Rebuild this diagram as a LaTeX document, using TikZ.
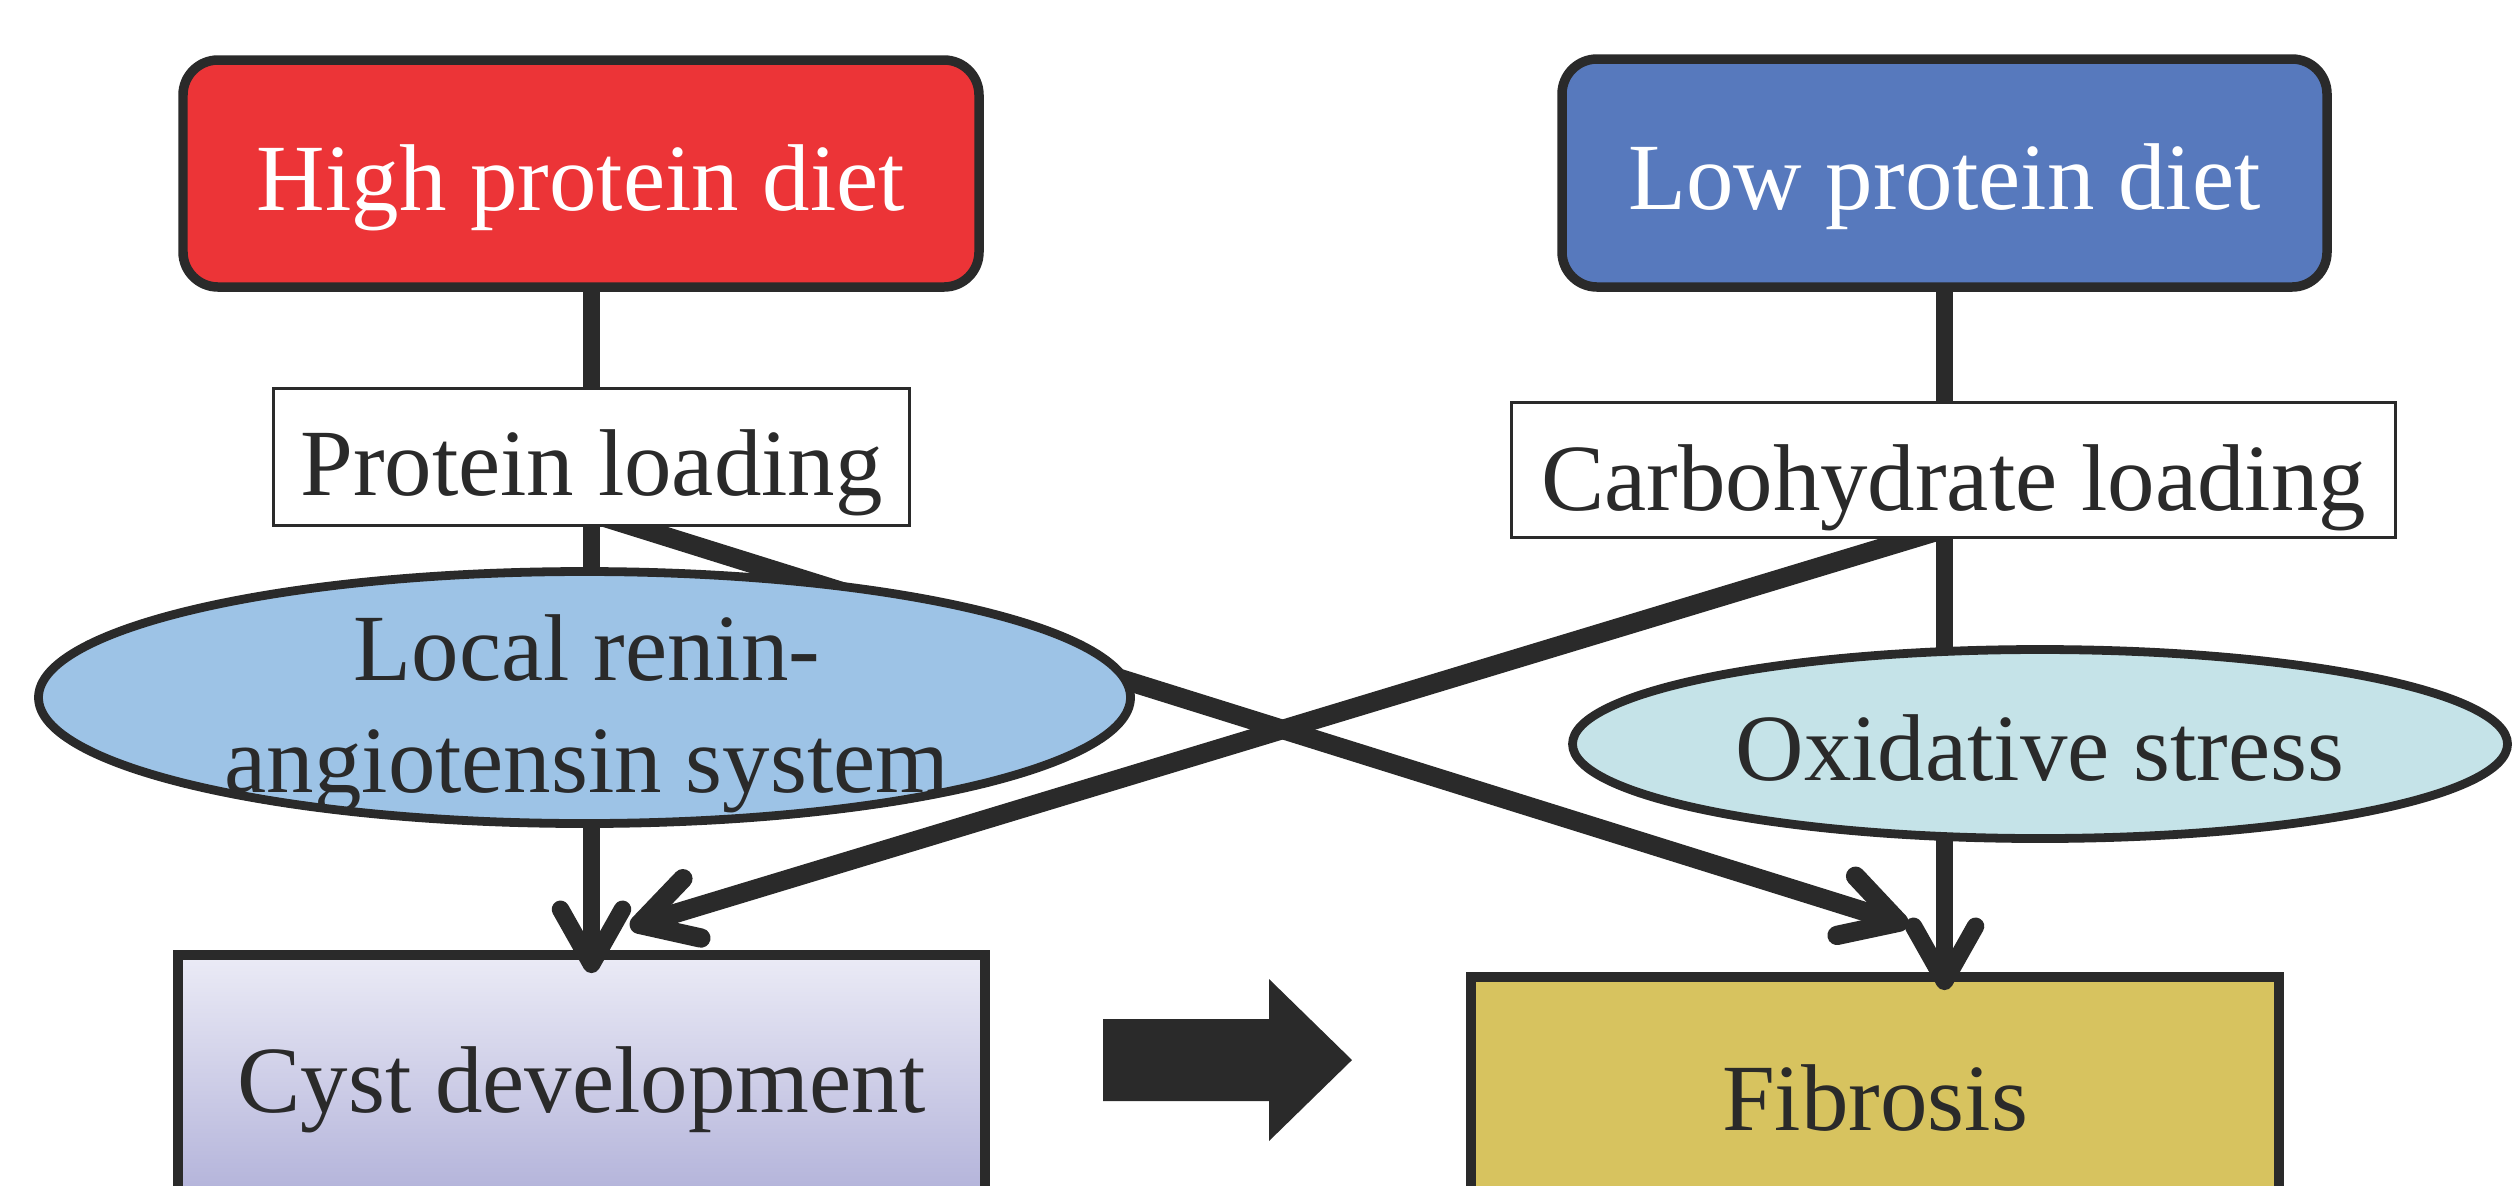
\documentclass[tikz,border=0pt]{standalone}
\usepackage{fontspec}
\setmainfont{Liberation Serif}
\usetikzlibrary{arrows.meta,calc,shapes.geometric}
\definecolor{dietred}{HTML}{EC3437}
\definecolor{dietblue}{HTML}{5779BD}
\definecolor{rasblue}{HTML}{9DC3E6}
\definecolor{oxcyan}{HTML}{C5E3E8}
\definecolor{fibgold}{HTML}{D7C35F}
\definecolor{cysttop}{HTML}{EBEBF6}
\definecolor{cystbot}{HTML}{B3B3DA}
\definecolor{flowink}{HTML}{2A2A2A}
\pgfdeclarelayer{front}
\pgfsetlayers{main,front}

\begin{document}
\begin{tikzpicture}[
  x=1cm,
  y=1cm,
  every node/.style={font=\fontsize{27}{32}\selectfont, text=flowink, inner sep=0pt},
  diet/.style={draw=flowink, line width=2.7pt, rounded corners=0.35cm, text=white,
    text height=0.73cm, text depth=0pt},
  load/.style={draw=flowink, line width=0.85pt, fill=white, text depth=0pt},
  oval/.style={ellipse, draw=flowink, line width=2.5pt},
  outcome/.style={draw=flowink, line width=2.8pt, text depth=0pt},
  bar/.style={flowink, line width=5pt},
  link/.style={bar, -{Straight Barb[round, length=0.55cm, width=0.62cm]}},
  cross/.style={link, line width=5.5pt}
]
  \useasboundingbox (0,0) rectangle (25.12,-11.85);

  % ---- diets ----
  \node[diet, fill=dietred, minimum width=7.96cm, minimum height=2.27cm]
    (high) at (5.81,-1.735) {High protein diet};
  \node[diet, fill=dietblue, minimum width=7.65cm, minimum height=2.28cm]
    (low) at (19.445,-1.73) {Low protein diet};

  % ---- outcomes (boxes run past the lower edge) ----
  \node[outcome, top color=cysttop, bottom color=cystbot,
        minimum width=8.07cm, minimum height=2.4cm, text height=0.74cm]
    (cyst) at (5.815,-10.75) {Cyst development};
  \node[outcome, fill=fibgold, minimum width=8.08cm, minimum height=2.4cm,
        text height=0.66cm]
    (fib) at (18.75,-10.97) {Fibrosis};

  % ---- loading and mediators, kept above the lines that run behind them ----
  \begin{pgfonlayer}{front}
    \node[load, minimum width=6.36cm, minimum height=1.37cm, text height=0.76cm]
      (prot) at (5.915,-4.57) {Protein loading};
    \node[load, minimum width=8.84cm, minimum height=1.35cm, text height=0.80cm]
      (carb) at (19.535,-4.70) {Carbohydrate loading};
    \node[oval, fill=rasblue, minimum width=10.92cm, minimum height=2.52cm]
      (ras) at (5.845,-6.975) {};
    \node[align=center] (rastext) at (5.87,-7.14) {Local renin-\\angiotensin system};
    \node[oval, fill=oxcyan, minimum width=9.35cm, minimum height=1.89cm,
          text height=0.72cm, text depth=0pt]
      (oxi) at (20.40,-7.44) {Oxidative stress};
  \end{pgfonlayer}

  % ---- straight paths ----
  \draw[bar] (high.south -| prot.north) -- (prot.north);
  \draw[link] (prot.south) -- ($(prot.south |- cyst.north)+(0,-0.23)$);
  \draw[bar] (low.south) -- (low.south |- carb.north);
  \draw[link] (low.south |- carb.south) -- ($(low.south |- fib.north)+(0,-0.18)$);

  % ---- crossing paths ----
  \draw[cross] ($(prot.south)+(0.12,0.1)$) -- ($(fib.north)+(0.33,0.47)$);
  \draw[cross] ($(low.south |- carb.south)+(0,0.1)$) -- ($(cyst.north)+(0.485,0.23)$);

  % ---- block arrow between outcomes ----
  \fill[flowink] (11.03,-10.19) -- (12.69,-10.19) -- (12.69,-9.79) -- (13.52,-10.60)
    -- (12.69,-11.41) -- (12.69,-11.01) -- (11.03,-11.01) -- cycle;
\end{tikzpicture}
\end{document}
